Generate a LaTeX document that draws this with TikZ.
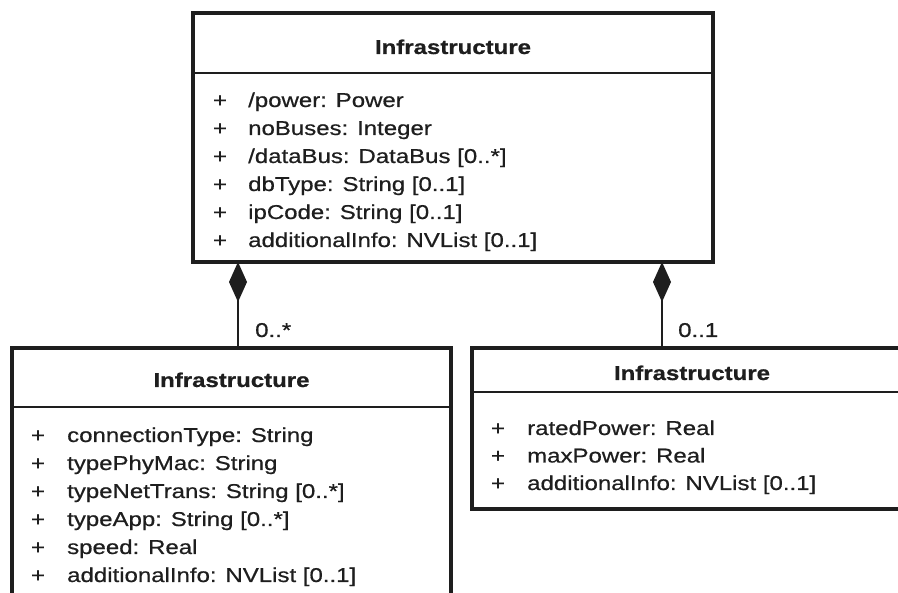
\documentclass[tikz,border=0pt]{standalone}
\usepackage{fontspec}
\setmainfont{Liberation Sans}[FakeStretch=1.2,UprightFeatures={FakeBold=0.6},BoldFeatures={FakeBold=0.8}]
\usetikzlibrary{arrows.meta}
\definecolor{ink}{HTML}{1E1E1E}
\begin{document}
\begin{tikzpicture}[x=1pt,y=-1pt,
  box/.style={draw=ink,line width=3.2pt,rectangle,inner sep=0pt,outer sep=0pt,anchor=north west},
  title/.style={font=\bfseries\fontsize{20}{24}\selectfont,text=ink,anchor=base,inner sep=0pt},
  attr/.style={font=\fontsize{20}{24}\selectfont,text=ink,anchor=base west,inner sep=0pt},
  plus/.style={font=\fontsize{20}{24}\selectfont,text=ink,anchor=base,inner sep=0pt},
  divider/.style={draw=ink,line width=2.8pt},
  comp/.style={draw=ink,line width=1.8pt,{Diamond[length=40pt,width=18pt]}-}
]
\useasboundingbox (0,0) rectangle (898,593);
\fill[white] (0,0) rectangle (898,593);
\clip (0,0) rectangle (898,593);

% top class
\node[box,minimum width=520pt,minimum height=249pt] (top) at (193,13) {};
\draw[divider] (top.west |- 0,73) -- (top.east |- 0,73);
\node[title] (toptitle) at (453,54) {Infrastructure};
\foreach \t [count=\i from 0] in {/power: Power,noBuses: Integer,/dataBus: DataBus [0..*],dbType: String [0..1],ipCode: String [0..1],additionalInfo: NVList [0..1]}{
  \node[plus] (tp\i) at (220,107+28*\i) {+};
  \node[attr] (ta\i) at (248,107+28*\i) {\t};
}

% left class
\node[box,minimum width=439pt,minimum height=300pt] (lbox) at (12,348) {};
\draw[divider] (lbox.west |- 0,407) -- (lbox.east |- 0,407);
\node[title] (ltitle) at (231.5,387) {Infrastructure};
\foreach \t [count=\i from 0] in {connectionType: String,typePhyMac: String,typeNetTrans: String [0..*],typeApp: String [0..*],speed: Real,additionalInfo: NVList [0..1]}{
  \node[plus] (lp\i) at (38,442+28*\i) {+};
  \node[attr] (la\i) at (67,442+28*\i) {\t};
}

% right class
\node[box,minimum width=440pt,minimum height=161pt] (rbox) at (472,348) {};
\draw[divider] (rbox.west |- 0,392) -- (rbox.east |- 0,392);
\node[title] (rtitle) at (692,380) {Infrastructure};
\foreach \t [count=\i from 0] in {ratedPower: Real,maxPower: Real,additionalInfo: NVList [0..1]}{
  \node[plus] (rp\i) at (498,435+27.5*\i) {+};
  \node[attr] (ra\i) at (527,435+27.5*\i) {\t};
}

% compositions
\coordinate (c1) at (238,262);
\coordinate (c2) at (662,262);
\draw[comp] (c1) -- (c1 |- lbox.north);
\draw[comp] (c2) -- (c2 |- rbox.north);
\node[attr] (m1) at (255,337) {0..*};
\node[attr] (m2) at (678,337) {0..1};
\end{tikzpicture}
\end{document}
